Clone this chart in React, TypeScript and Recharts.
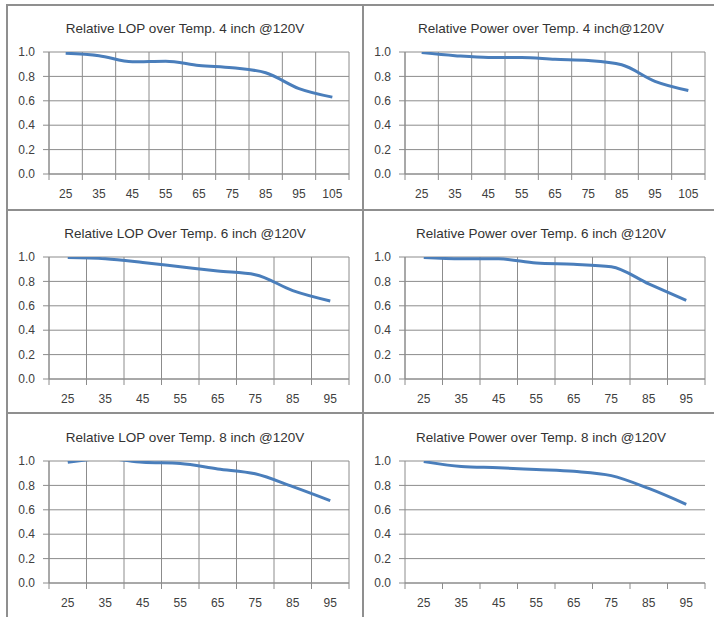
import React from "react";
import { LineChart, Line, XAxis, YAxis, CartesianGrid } from "recharts";

// temperatures (°C) on the category axis
const TEMPS_4 = [25, 35, 45, 55, 65, 75, 85, 95, 105];
const TEMPS_6 = [25, 35, 45, 55, 65, 75, 85, 95];
// category edges, where the vertical grid lines and tick marks go
const EDGES_4 = [20, 30, 40, 50, 60, 70, 80, 90, 100, 110];
const EDGES_6 = [20, 30, 40, 50, 60, 70, 80, 90, 100];
const Y_TICKS = [0, 0.2, 0.4, 0.6, 0.8, 1.0];

const LOP_4 = [0.99, 0.97, 0.92, 0.925, 0.89, 0.87, 0.83, 0.7, 0.63];
const POWER_4 = [0.995, 0.97, 0.955, 0.955, 0.94, 0.93, 0.895, 0.76, 0.685];
const LOP_6 = [0.995, 0.985, 0.955, 0.92, 0.885, 0.855, 0.725, 0.64];
const POWER_6 = [0.995, 0.985, 0.985, 0.95, 0.94, 0.92, 0.78, 0.645];
const LOP_8 = [0.99, 1.02, 0.99, 0.98, 0.935, 0.895, 0.79, 0.675];
const POWER_8 = [0.995, 0.955, 0.945, 0.93, 0.915, 0.88, 0.775, 0.645];

const GRAY = "#8c8c8c";
const BLUE = "#4a7ebb";
const FONT = "'Liberation Sans', Arial, sans-serif";

const W = 356;
const H = 205;

type PanelProps = {
  title: string;
  temps: number[];
  edges: number[];
  values: number[];
  vertical?: boolean;
};

function Panel({ title, temps, edges, values, vertical = true }: PanelProps) {
  const data = temps.map((t, i) => ({ temp: t, value: values[i] }));
  const domain = [edges[0], edges[edges.length - 1]];
  return (
    <div style={{ position: "relative", width: W, height: H }}>
      <div style={{ position: "absolute", left: 0, top: 15, width: W, textAlign: "center", fontFamily: FONT, fontSize: 13.5, color: "#333", lineHeight: "18px" }}>
        {title}
      </div>
      <LineChart width={W} height={H} data={data} margin={{ top: 47, right: 14, bottom: 0, left: 0 }}>
        <CartesianGrid xAxisId={0} stroke={GRAY} vertical={vertical} />
        <XAxis xAxisId={0} type="number" dataKey="temp" domain={domain} ticks={edges} interval={0} height={1}
          tickFormatter={() => ""} axisLine={{ stroke: GRAY }} tickLine={{ stroke: GRAY }} tickSize={6} />
        <XAxis xAxisId={1} type="number" dataKey="temp" domain={domain} ticks={temps} interval={0} height={35}
          axisLine={false} tickLine={false} tickSize={0} tickMargin={14}
          tick={{ fontSize: 12, fill: "#404040", fontFamily: FONT }} />
        <YAxis type="number" domain={[0, 1]} allowDataOverflow ticks={Y_TICKS} width={42} interval={0}
          tickFormatter={(v) => Number(v).toFixed(1)} axisLine={{ stroke: GRAY }} tickLine={{ stroke: GRAY }}
          tickSize={6} tickMargin={8} tick={{ fontSize: 12, fill: "#404040", fontFamily: FONT }} />
        <Line xAxisId={1} type="monotone" dataKey="value" stroke={BLUE} strokeWidth={3} dot={false} isAnimationActive={false} />
      </LineChart>
    </div>
  );
}

const border = (left: number, top: number, width: number, height: number) => (
  <div style={{ position: "absolute", left, top, width, height, background: "#8f8f8f" }} />
);

export default function App() {
  return (
    <div style={{ position: "absolute", left: 0, top: 0, width: 714, height: 617, overflow: "hidden", background: "#fff" }}>
      <div style={{ position: "absolute", left: 7, top: 5 }}>
        <Panel title="Relative LOP over Temp. 4 inch @120V" temps={TEMPS_4} edges={EDGES_4} values={LOP_4} />
      </div>
      <div style={{ position: "absolute", left: 363, top: 5 }}>
        <Panel title="Relative Power over Temp. 4 inch@120V" temps={TEMPS_4} edges={EDGES_4} values={POWER_4} />
      </div>
      <div style={{ position: "absolute", left: 7, top: 210 }}>
        <Panel title="Relative LOP Over Temp. 6 inch @120V" temps={TEMPS_6} edges={EDGES_6} values={LOP_6} />
      </div>
      <div style={{ position: "absolute", left: 363, top: 210 }}>
        <Panel title="Relative Power over Temp. 6 inch @120V" temps={TEMPS_6} edges={EDGES_6} values={POWER_6} />
      </div>
      <div style={{ position: "absolute", left: 7, top: 414 }}>
        <Panel title="Relative LOP over Temp. 8 inch @120V" temps={TEMPS_6} edges={EDGES_6} values={LOP_8} />
      </div>
      <div style={{ position: "absolute", left: 363, top: 414 }}>
        <Panel title="Relative Power over Temp. 8 inch @120V" temps={TEMPS_6} edges={EDGES_6} values={POWER_8} vertical={false} />
      </div>
      {border(6, 4, 708, 2)}
      {border(6, 4, 2, 613)}
      {border(362, 4, 2, 613)}
      {border(6, 209, 708, 2)}
      {border(6, 412, 708, 2)}
    </div>
  );
}
